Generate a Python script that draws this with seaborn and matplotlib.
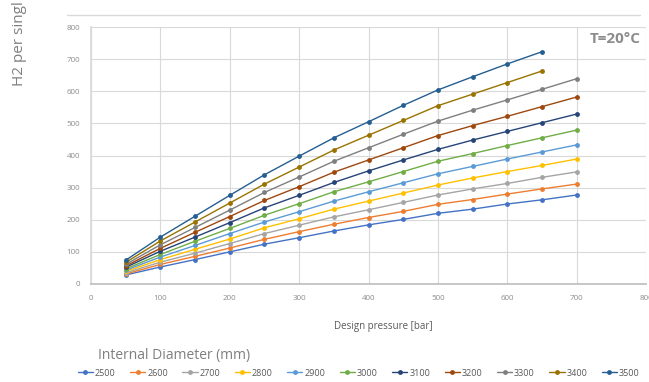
import matplotlib.pyplot as plt
import seaborn as sns
import pandas as pd

pressao = [50, 100, 150, 200, 250, 300, 350, 400, 450, 500, 550, 600, 650, 700]

diametros = ["2500", "2600", "2700", "2800", "2900", "3000",
             "3100", "3200", "3300", "3400", "3500"]

h2_2500 = [28, 53, 76, 100, 124, 144, 165, 184, 201, 220, 233, 249, 262, 277]
h2_2600 = [31, 61, 86, 112, 139, 163, 186, 207, 226, 248, 263, 280, 296, 311]
h2_2700 = [35, 68, 96, 126, 157, 183, 209, 231, 254, 277, 296, 313, 332, 349]
h2_2800 = [39, 76, 108, 140, 175, 203, 233, 258, 283, 308, 330, 350, 369, 389]
h2_2900 = [43, 84, 120, 157, 193, 225, 258, 287, 315, 343, 366, 389, 411, 433]
h2_3000 = [47, 92, 133, 173, 214, 250, 287, 318, 350, 382, 406, 431, 455, 479]
h2_3100 = [52, 102, 146, 191, 237, 276, 316, 352, 386, 419, 448, 475, 502, 529]
h2_3200 = [56, 111, 161, 210, 260, 303, 348, 386, 424, 462, 493, 522, 552, 582]
h2_3300 = [61, 122, 176, 230, 285, 333, 382, 424, 466, 507, 541, 573, 606, 639]
h2_3400 = [67, 134, 193, 252, 311, 364, 417, 463, 509, 555, 591, 627, 663]
h2_3500 = [74, 146, 211, 276, 340, 398, 455, 505, 556, 604, 645, 685, 723]

series = [h2_2500, h2_2600, h2_2700, h2_2800, h2_2900, h2_3000,
          h2_3100, h2_3200, h2_3300, h2_3400, h2_3500]

cores = ["#4472C4", "#ED7D31", "#A5A5A5", "#FFC000", "#5B9BD5", "#70AD47",
         "#264478", "#9E480E", "#7F7F7F", "#997300", "#255E91"]

linhas = []
for d, vals in zip(diametros, series):
    for p, v in zip(pressao, vals):
        linhas.append({"pressao": p, "h2": v, "diametro": d})
df = pd.DataFrame(linhas)

sns.set_theme(style="white")
plt.rcParams["font.family"] = ["Open Sans", "DejaVu Sans"]

cinza = "#7f7f7f"
fig = plt.figure(figsize=(6.49, 3.82), dpi=100)
ax = fig.add_axes([91 / 649, 1 - 284 / 382, 555 / 649, 257 / 382])

sns.lineplot(data=df, x="pressao", y="h2", hue="diametro",
             palette=dict(zip(diametros, cores)), marker="o", markersize=3.5,
             markeredgewidth=0, linewidth=1.0, ax=ax, legend=False)

ax.set_xlim(0, 800)
ax.set_ylim(0, 800)
ax.set_xticks(range(0, 801, 100))
ax.set_yticks(range(0, 801, 100))
ax.grid(True, color="#d9d9d9", linewidth=0.8)
ax.set_axisbelow(True)
for s in ["top", "right"]:
    ax.spines[s].set_visible(False)
ax.spines["left"].set_color("#d9d9d9")
ax.spines["bottom"].set_color("#bfbfbf")
ax.tick_params(axis="both", length=0, labelsize=5.8, labelcolor="#8c8c8c", pad=8)
ax.set_xlabel("")
ax.set_ylabel("")

ax.text(0.99, 0.955, "T=20°C", transform=ax.transAxes, ha="right", va="center",
        fontsize=11, fontweight="bold", color="#8c8c8c")

fig.text(383 / 649, 1 - 326 / 382, "Design pressure [bar]", ha="center", va="center",
         fontsize=7, color="#595959")
fig.text(20 / 649, 1 - 44 / 382, "H2 per singl", rotation=90, ha="center", va="center",
         fontsize=11, color=cinza)
fig.add_artist(plt.Line2D([67 / 649, 640 / 649], [1 - 15 / 382, 1 - 15 / 382],
                          color="#d9d9d9", linewidth=1.0))

fig.text(98 / 649, 1 - 356 / 382, "Internal Diameter (mm)", ha="left", va="center",
         fontsize=10, color=cinza)
handles = [plt.Line2D([], [], color=c, marker="o", markersize=3.5,
                      markeredgewidth=0, linewidth=1.0) for c in cores]
fig.legend(handles, diametros, loc="center left", bbox_to_anchor=(74 / 649, 1 - 373 / 382),
           ncol=11, frameon=False, fontsize=6.5, labelcolor="#595959",
           handlelength=1.7, handletextpad=0.2, columnspacing=1.6, borderaxespad=0)

fig.savefig("out.png", dpi=100)
